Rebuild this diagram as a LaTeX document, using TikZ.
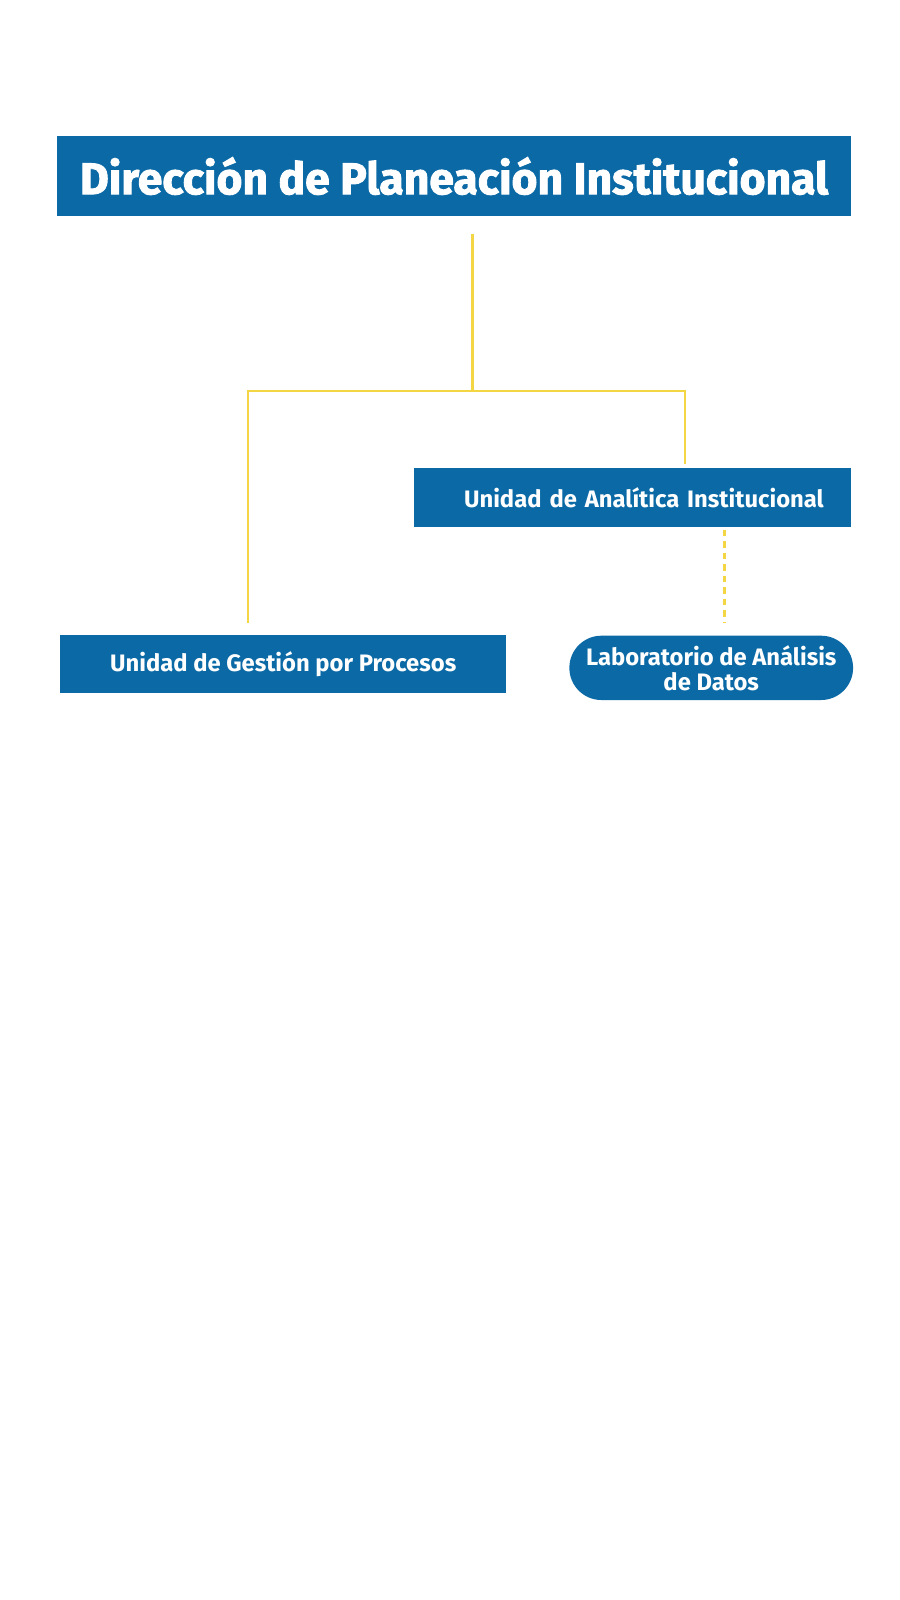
\documentclass[tikz,border=0pt]{standalone}
\usepackage{fontspec}
\setmainfont{Fira Sans}
\newfontfamily\titlefont[FakeBold=2]{Fira Sans}
\usetikzlibrary{calc}
\definecolor{boxblue}{HTML}{0B6AA6}
\definecolor{lineyellow}{HTML}{F4D645}
\begin{document}
\begin{tikzpicture}[x=1.0204pt,y=-1.0204pt,
  unitbox/.style={fill=boxblue,text=white,inner sep=0pt,font=\bfseries\fontsize{23.8}{25}\selectfont},
  link/.style={draw=lineyellow,line width=2.3pt},
  dashlink/.style={draw=lineyellow,line width=2.3pt,dash pattern=on 6.5pt off 5pt}]
\useasboundingbox[fill=white] (0,0) rectangle (882,1568);
\node[unitbox,minimum width=793.9pt,minimum height=80.6pt,font=\titlefont\bfseries\fontsize{44.4}{48}\selectfont] (dir) at (445,172.5) {Dirección de Planeación Institucional};
\node[unitbox,minimum width=436.7pt,minimum height=58.2pt,text width=436.7pt,align=center] (ana) at (620,487.5) {\hspace*{22.5pt}Unidad de Analítica Institucional};
\node[unitbox,minimum width=445.9pt,minimum height=58.2pt] (ges) at (277.5,650.5) {Unidad de Gestión por Procesos};
\node[unitbox,rounded corners=32pt,minimum width=283.7pt,minimum height=64.3pt,align=center] (lab) at (697,654.5) {Laboratorio de Análisis\\de Datos};
\coordinate (top) at (463,229);
\coordinate (mid) at (463,383);
\coordinate (left) at (243,383);
\coordinate (right) at (671,383);
\coordinate (leftend) at (243,611);
\coordinate (rightend) at (671,455);
\coordinate (dashtop) at (710,519);
\coordinate (dashend) at (710,610);
\draw[link] (top) -- (mid);
\draw[link] (leftend) -- (left) -- (right) -- (rightend);
\draw[dashlink] (dashtop) -- (dashend);
\end{tikzpicture}
\end{document}
